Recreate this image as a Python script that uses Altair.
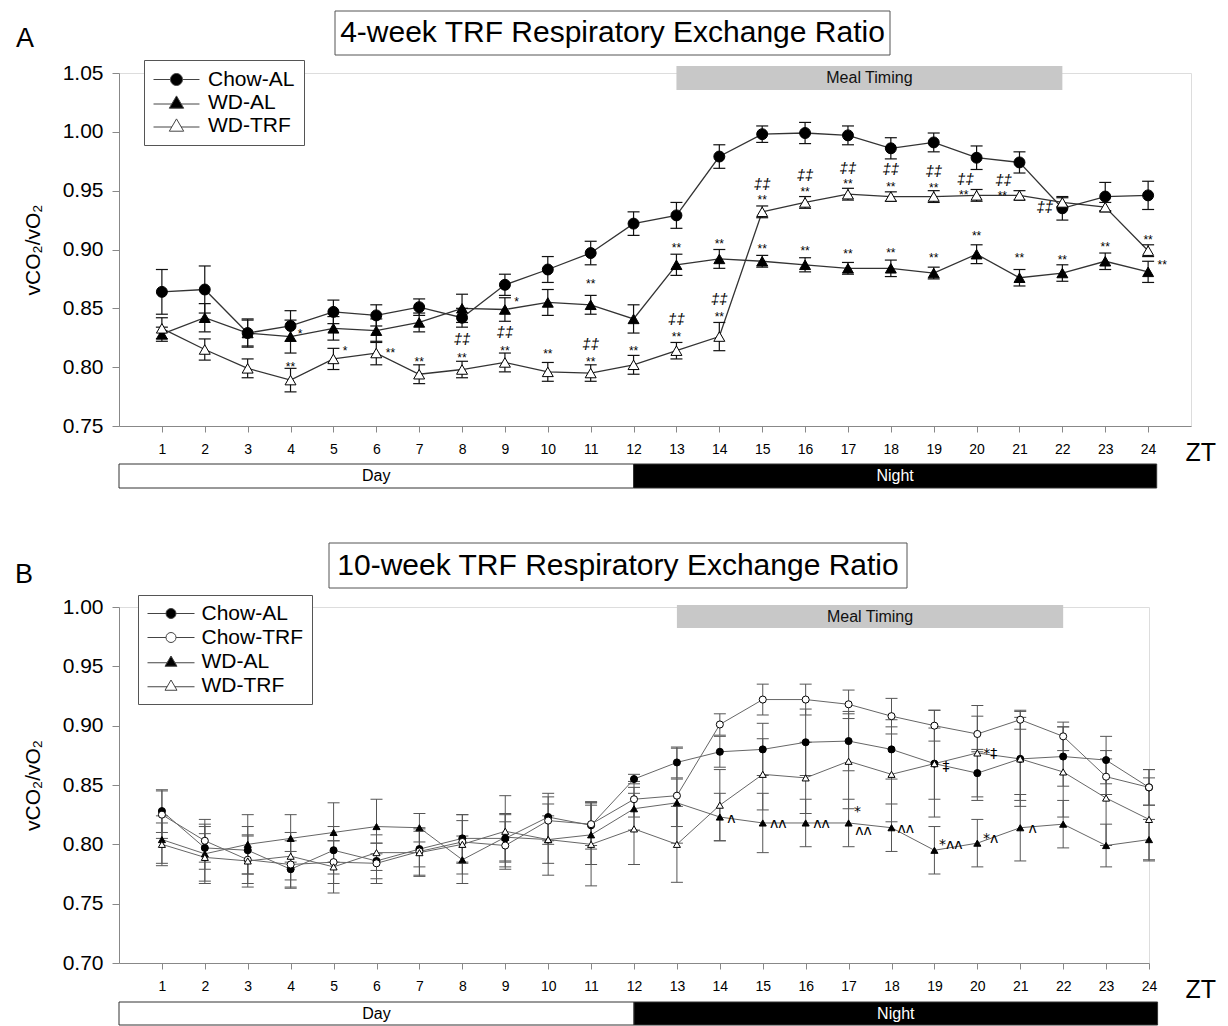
import altair as alt
import pandas as pd

FONT = "Liberation Sans"
ZT = list(range(1, 25))

# ---------------- Panel A data (4-week) ----------------
A_SERIES = ["Chow-AL", "WD-AL", "WD-TRF"]
A_CHOW_AL = [0.864, 0.866, 0.829, 0.835, 0.847, 0.844, 0.851, 0.842, 0.870, 0.883, 0.897, 0.922,
             0.929, 0.979, 0.998, 0.999, 0.997, 0.986, 0.991, 0.978, 0.974, 0.935, 0.945, 0.946]
A_CHOW_AL_ERR = [0.019, 0.020, 0.012, 0.013, 0.010, 0.009, 0.007, 0.008, 0.009, 0.011, 0.010, 0.010,
                 0.011, 0.010, 0.007, 0.009, 0.008, 0.009, 0.008, 0.010, 0.009, 0.010, 0.012, 0.012]
A_WD_AL = [0.828, 0.842, 0.829, 0.826, 0.833, 0.831, 0.838, 0.850, 0.849, 0.855, 0.853, 0.841,
           0.887, 0.892, 0.890, 0.887, 0.884, 0.884, 0.880, 0.896, 0.876, 0.880, 0.890, 0.881]
A_WD_AL_ERR = [0.006, 0.012, 0.011, 0.014, 0.010, 0.010, 0.008, 0.012, 0.010, 0.011, 0.008, 0.012,
               0.009, 0.008, 0.005, 0.006, 0.005, 0.007, 0.005, 0.008, 0.007, 0.007, 0.007, 0.009]
A_WD_TRF = [0.833, 0.815, 0.799, 0.789, 0.807, 0.812, 0.794, 0.798, 0.804, 0.796, 0.795, 0.802,
            0.814, 0.826, 0.932, 0.940, 0.947, 0.945, 0.945, 0.946, 0.946, 0.940, 0.936, 0.899]
A_WD_TRF_ERR = [0.009, 0.009, 0.008, 0.010, 0.009, 0.010, 0.008, 0.007, 0.008, 0.008, 0.007, 0.008,
                0.007, 0.012, 0.005, 0.005, 0.005, 0.004, 0.005, 0.005, 0.004, 0.004, 0.004, 0.005]

A_STAR_X = [4.22, 4, 5.27, 6.33, 7, 8, 9.27, 9, 10, 11, 11, 12, 13, 13, 14, 14, 15, 15, 16, 16,
            17, 17, 18, 18, 19, 19, 19.7, 20, 20.6, 21, 22, 23, 24, 24.33]
A_STAR_Y = [0.831, 0.803, 0.816, 0.815, 0.807, 0.810, 0.858, 0.816, 0.814, 0.873, 0.807, 0.816,
            0.904, 0.828, 0.907, 0.845, 0.945, 0.903, 0.951, 0.901, 0.958, 0.899, 0.956, 0.900,
            0.955, 0.895, 0.949, 0.914, 0.948, 0.895, 0.894, 0.905, 0.911, 0.889]
A_STAR_T = ["*", "**", "*", "**", "**", "**", "*", "**", "**", "**", "**", "**", "**", "**", "**", "**",
            "**", "**", "**", "**", "**", "**", "**", "**", "**", "**", "**", "**", "**", "**", "**",
            "**", "**", "**"]
A_DAG_X = [8, 9, 11, 13, 14, 15, 16, 17, 18, 19, 19.74, 20.63, 21.59]
A_DAG_Y = [0.824, 0.830, 0.820, 0.841, 0.858, 0.956, 0.963, 0.969, 0.968, 0.967, 0.960, 0.959, 0.936]
A_DAG_T = ["‡‡"] * len(A_DAG_X)

# ---------------- Panel B data (10-week) ----------------
B_SERIES = ["Chow-AL", "Chow-TRF", "WD-AL", "WD-TRF"]
B_CHOW_AL = [0.828, 0.797, 0.795, 0.779, 0.795, 0.786, 0.796, 0.805, 0.805, 0.823, 0.816, 0.855,
             0.869, 0.878, 0.880, 0.886, 0.887, 0.880, 0.868, 0.860, 0.872, 0.874, 0.871, 0.848]
B_CHOW_AL_ERR = [0.018, 0.018, 0.020, 0.015, 0.020, 0.015, 0.015, 0.020, 0.020, 0.020, 0.020, 0.004,
                 0.013, 0.013, 0.022, 0.028, 0.025, 0.025, 0.030, 0.020, 0.035, 0.025, 0.020, 0.015]
B_CHOW_TRF = [0.825, 0.803, 0.787, 0.783, 0.785, 0.784, 0.794, 0.802, 0.799, 0.820, 0.817, 0.838,
              0.841, 0.901, 0.922, 0.922, 0.918, 0.908, 0.900, 0.893, 0.905, 0.891, 0.857, 0.848]
B_CHOW_TRF_ERR = [0.020, 0.018, 0.020, 0.020, 0.018, 0.017, 0.020, 0.018, 0.020, 0.020, 0.018, 0.015,
                  0.040, 0.009, 0.013, 0.013, 0.012, 0.015, 0.013, 0.015, 0.008, 0.012, 0.015, 0.015]
B_WD_AL = [0.804, 0.792, 0.800, 0.805, 0.810, 0.815, 0.814, 0.787, 0.806, 0.804, 0.808, 0.830,
           0.835, 0.823, 0.818, 0.818, 0.818, 0.814, 0.795, 0.801, 0.814, 0.817, 0.799, 0.804]
B_WD_AL_ERR = [0.020, 0.025, 0.025, 0.020, 0.025, 0.023, 0.012, 0.020, 0.020, 0.020, 0.025, 0.018,
               0.020, 0.020, 0.025, 0.020, 0.020, 0.020, 0.020, 0.020, 0.028, 0.020, 0.018, 0.017]
B_WD_TRF = [0.800, 0.789, 0.786, 0.790, 0.781, 0.793, 0.793, 0.800, 0.811, 0.804, 0.800, 0.813,
            0.800, 0.833, 0.859, 0.856, 0.870, 0.859, 0.868, 0.877, 0.872, 0.861, 0.839, 0.821]
B_WD_TRF_ERR = [0.018, 0.020, 0.022, 0.020, 0.022, 0.015, 0.020, 0.025, 0.030, 0.030, 0.035, 0.030,
                0.032, 0.030, 0.030, 0.030, 0.040, 0.040, 0.045, 0.040, 0.040, 0.038, 0.040, 0.035]

B_ANN_X = [14.27, 15.36, 16.37, 17.21, 17.35, 18.33, 19.38, 20.31, 21.29, 19.27, 20.30]
B_ANN_Y = [0.822, 0.818, 0.818, 0.828, 0.812, 0.814, 0.800, 0.805, 0.814, 0.866, 0.877]
B_ANN_T = ["ʌ", "ʌʌ", "ʌʌ", "*", "ʌʌ", "ʌʌ", "*ʌʌ", "*ʌ", "ʌ", "‡", "*‡"]

# ---------------- shared annotation bands ----------------
PERIOD_LABEL = ["Day", "Night"]
PERIOD_START = [0, 12]
PERIOD_END = [12, 24.2]
MEAL_LABEL = ["Meal Timing"]
MEAL_START = [13]
MEAL_END = [22]

SHAPES = {"Chow-AL": "circle", "Chow-TRF": "circle", "WD-AL": "triangle-up", "WD-TRF": "triangle-up"}
FILLS = {"Chow-AL": "black", "Chow-TRF": "white", "WD-AL": "black", "WD-TRF": "white"}


def legend_path(shape, half):
    if shape == "circle":
        return (f"M{-half},0L-1,0M1,0L{half},0"
                "M-1,0A1,1,0,1,1,1,0A1,1,0,1,1,-1,0Z")
    return (f"M{-half},0.25L-0.75,0.25M0.75,0.25L{half},0.25"
            "M0,-1.1L1.2,0.95L-1.2,0.95Z")


def build_long(series, values, errors):
    rows = []
    for s, vals, errs in zip(series, values, errors):
        for z, v, e in zip(ZT, vals, errs):
            rows.append(dict(ZT=z, series=s, val=v, lo=round(v - e, 4), hi=round(v + e, 4)))
    return pd.DataFrame(rows)


def panel(series, values, errors, y_domain, y_ticks, W, H, x_max,
          ann_layers, title_text, letter, geo, style):
    df = build_long(series, values, errors)
    xs = alt.Scale(domain=[0, x_max], nice=False, zero=False)
    ys = alt.Scale(domain=y_domain, nice=False, zero=False)
    x_axis = alt.Axis(values=ZT, title="ZT", titleX=1066, titleY=26, titleAlign="left",
                      titleBaseline="middle", titleAngle=0, titleFontSize=25,
                      titleFontWeight="normal", labelFontSize=14, tickSize=6,
                      labelPadding=10, grid=False, labelFlush=False)
    y_axis = alt.Axis(values=y_ticks, format=".2f", title="vCO₂/vO₂", titleFontSize=21,
                      titleFontWeight="normal", titlePadding=19, labelFontSize=21,
                      tickSize=7, labelPadding=9, grid=False)

    def X(f):
        return alt.X(f, type="quantitative", scale=xs, axis=x_axis)

    def Y(f):
        return alt.Y(f, type="quantitative", scale=ys, axis=y_axis)

    base = alt.Chart(df)
    lines = base.mark_line(color=style["line"], strokeWidth=style["lw"]).encode(
        x=X("ZT"), y=Y("val"), detail="series:N")
    bars = base.mark_rule(color=style["err"], strokeWidth=style["ew"]).encode(
        x=X("ZT"), y=Y("lo"), y2="hi")
    cap_hi = base.mark_tick(orient="horizontal", size=12, thickness=style["ew"],
                            color=style["err"], opacity=1).encode(x=X("ZT"), y=Y("hi"))
    cap_lo = base.mark_tick(orient="horizontal", size=12, thickness=style["ew"],
                            color=style["err"], opacity=1).encode(x=X("ZT"), y=Y("lo"))
    points = base.mark_point(filled=True, stroke="black", strokeWidth=1, opacity=1,
                             size=style["size"]).encode(
        x=X("ZT"), y=Y("val"),
        shape=alt.Shape("series:N", scale=alt.Scale(domain=series, range=[SHAPES[s] for s in series]),
                        legend=None),
        fill=alt.Fill("series:N", scale=alt.Scale(domain=series, range=[FILLS[s] for s in series]),
                      legend=None))

    # legend (built from the series list; drawn by Vega-Lite's legend)
    leg_df = pd.DataFrame({"series": series, "ZT": [None] * len(series), "val": [None] * len(series)})
    lg = geo["legend"]
    leg_kw = dict(title=None, orient="none", legendX=lg["x"], legendY=lg["y"], labelFont=FONT,
                  labelFontSize=21, labelColor="black", symbolSize=lg["size"],
                  symbolStrokeWidth=1, symbolOffset=lg["soff"],
                  labelOffset=lg["loff"], padding=lg["pad"], rowPadding=lg["rpad"],
                  strokeColor="#555", fillColor="white", symbolLimit=10)
    legend_layer = alt.Chart(leg_df).transform_filter("isValid(datum.ZT)").mark_point(
        filled=True, strokeWidth=1, opacity=1, size=lg["size"]).encode(
        x=X("ZT"), y=Y("val"),
        shape=alt.Shape("series:N", scale=alt.Scale(
            domain=series, range=[legend_path(SHAPES[s], lg["half"]) for s in series]),
            legend=alt.Legend(**leg_kw)),
        fill=alt.Fill("series:N", scale=alt.Scale(domain=series, range=[FILLS[s] for s in series]),
                      legend=alt.Legend(**leg_kw)),
        stroke=alt.Stroke("series:N", scale=alt.Scale(domain=series, range=["#444"] * len(series)),
                          legend=alt.Legend(**leg_kw)))

    # annotation text layers
    ann = []
    for a in ann_layers:
        adf = pd.DataFrame({"x": a["x"], "y": a["y"], "t": a["t"]})
        ann.append(alt.Chart(adf).mark_text(font=a["font"], fontSize=a["fs"], fontStyle=a["style"],
                                            dy=a["dy"], color="black", baseline="middle").encode(
            x=X("x"), y=Y("y"), text="t:N"))

    # meal timing band
    meal_df = pd.DataFrame({"label": MEAL_LABEL, "start": MEAL_START, "end": MEAL_END})
    my = geo["meal"]
    meal_rect = alt.Chart(meal_df).mark_rect(color="#c8c8c8", opacity=1).encode(
        x=X("start"), x2="end", y=alt.value(my[0]), y2=alt.value(my[1]))
    meal_text = alt.Chart(meal_df).transform_calculate(mid="(datum.start + datum.end) / 2").mark_text(
        font=FONT, fontSize=16, color="#111", baseline="middle").encode(
        x=X("mid"), y=alt.value((my[0] + my[1]) / 2), text="label:N")

    # day / night band
    dn_df = pd.DataFrame({"label": PERIOD_LABEL, "start": PERIOD_START, "end": PERIOD_END})
    d0, d1 = H + geo["dn"][0], H + geo["dn"][1]
    dn_rect = alt.Chart(dn_df).mark_rect(stroke="#333", strokeWidth=1, opacity=1).encode(
        x=X("start"), x2="end", y=alt.value(d0), y2=alt.value(d1),
        fill=alt.condition("datum.label == 'Night'", alt.value("black"), alt.value("white")))
    dn_text = alt.Chart(dn_df).transform_calculate(mid="(datum.start + datum.end) / 2").mark_text(
        font=FONT, fontSize=16, baseline="middle").encode(
        x=X("mid"), y=alt.value((d0 + d1) / 2), text="label:N",
        color=alt.condition("datum.label == 'Night'", alt.value("white"), alt.value("black")))

    # boxed title and panel letter
    tb = geo["title"]
    t_df = pd.DataFrame({"title": [title_text], "letter": [letter]})
    t_rect = alt.Chart(t_df).mark_rect(fill="white", stroke="#555", strokeWidth=1).encode(
        x=alt.value(tb[0]), x2=alt.value(tb[1]), y=alt.value(tb[2]), y2=alt.value(tb[3]))
    t_text = alt.Chart(t_df).mark_text(font=FONT, fontSize=30, baseline="middle", color="black").encode(
        x=alt.value((tb[0] + tb[1]) / 2), y=alt.value((tb[2] + tb[3]) / 2), text="title:N")
    l_text = alt.Chart(t_df).mark_text(font=FONT, fontSize=27, baseline="middle", color="black").encode(
        x=alt.value(geo["letter"][0]), y=alt.value(geo["letter"][1]), text="letter:N")

    layers = [dn_rect, dn_text, meal_rect, meal_text, t_rect, t_text, l_text,
              lines, bars, cap_hi, cap_lo, points] + ann + [legend_layer]
    return alt.layer(*layers).resolve_scale(
        shape="independent", fill="independent", stroke="independent").properties(width=W, height=H)


PX = 42.9

panel_a = panel(
    A_SERIES, [A_CHOW_AL, A_WD_AL, A_WD_TRF], [A_CHOW_AL_ERR, A_WD_AL_ERR, A_WD_TRF_ERR],
    [0.75, 1.05], [0.75, 0.80, 0.85, 0.90, 0.95, 1.00, 1.05], round(25 * PX), 353, 25,
    [dict(x=A_STAR_X, y=A_STAR_Y, t=A_STAR_T, font=FONT, fs=12, style="normal", dy=3),
     dict(x=A_DAG_X, y=A_DAG_Y, t=A_DAG_T, font=FONT, fs=15, style="italic", dy=0)],
    "4-week TRF Respiratory Exchange Ratio", "A",
    dict(legend=dict(x=25, y=-13, size=144, half=3.83, soff=13, loff=21, pad=9, rpad=1),
         meal=(-7, 17), dn=(38, 62), title=(216, 771, -62, -18), letter=(-94, -34)),
    dict(line="#333", lw=1.3, err="#111", ew=1.2, size=120),
)

panel_b = panel(
    B_SERIES, [B_CHOW_AL, B_CHOW_TRF, B_WD_AL, B_WD_TRF],
    [B_CHOW_AL_ERR, B_CHOW_TRF_ERR, B_WD_AL_ERR, B_WD_TRF_ERR],
    [0.70, 1.00], [0.70, 0.75, 0.80, 0.85, 0.90, 0.95, 1.00], round(24 * PX), 356, 24,
    [dict(x=B_ANN_X, y=B_ANN_Y, t=B_ANN_T, font="DejaVu Sans", fs=14, style="normal", dy=1)],
    "10-week TRF Respiratory Exchange Ratio", "B",
    dict(legend=dict(x=19, y=-12, size=100, half=4.7, soff=14.5, loff=20, pad=8, rpad=2),
         meal=(-2, 21), dn=(39, 62), title=(210, 788, -64, -19), letter=(-95, -32)),
    dict(line="#666", lw=1.0, err="#555", ew=1.0, size=50),
)

chart = alt.vconcat(panel_a, panel_b, spacing=53).properties(
    padding={"left": 14, "top": 10, "right": 5, "bottom": 0}
).configure_view(stroke=None).configure_axis(
    domainColor="#555", tickColor="#555", labelColor="black", titleColor="black",
    labelFont=FONT, titleFont=FONT
).configure(font=FONT)

chart.save("out.html", embed_options={"renderer": "svg", "actions": False})
